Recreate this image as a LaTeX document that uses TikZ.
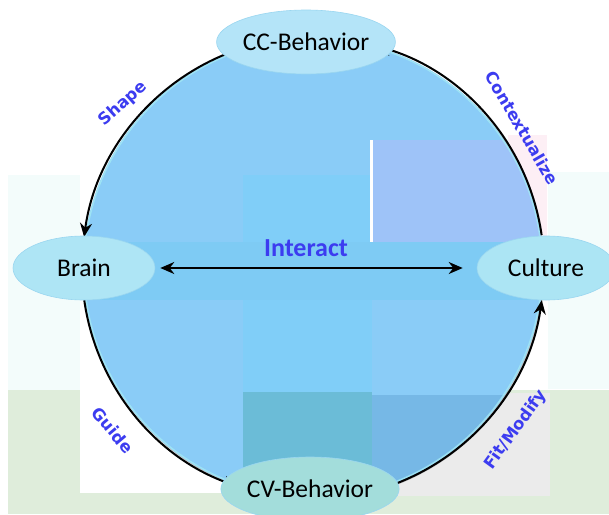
\documentclass[tikz,border=0pt]{standalone}
\usepackage{fontspec}
\setmainfont{Carlito}
\newfontfamily\labfont{DejaVu Sans}
\usetikzlibrary{shapes.geometric,arrows.meta,calc}
\definecolor{palecyan}{HTML}{F3FCFB}
\definecolor{palegreen}{HTML}{DFEDDB}
\definecolor{lgray}{HTML}{EBEBEB}
\definecolor{lpink}{HTML}{FDEFF5}
\definecolor{circblue}{HTML}{8ACCF7}
\definecolor{midrect}{HTML}{80CEF8}
\definecolor{lav}{HTML}{9EC3F8}
\definecolor{band}{HTML}{7ECBF4}
\definecolor{tealrect}{HTML}{6BBCD7}
\definecolor{lowright}{HTML}{76B8E6}
\definecolor{rimcyan}{HTML}{A6EEF4}
\definecolor{ellborder}{HTML}{9AD6F0}
\definecolor{ellA}{HTML}{B4E4F8}
\definecolor{ellB}{HTML}{AEE5F5}
\definecolor{ellC}{HTML}{ACE5F4}
\definecolor{ellD}{HTML}{A3DDDB}
\definecolor{labblue}{RGB}{60,60,240}
\tikzset{
  ell/.style={ellipse, draw=ellborder, line width=0.6pt, minimum width=142pt, minimum height=64pt,
    inner sep=0pt, text=black, font=\fontsize{25.5}{30}\selectfont},
  lab/.style={text=labblue, font=\labfont\bfseries\fontsize{16.5}{19}\selectfont, inner sep=0pt},
  conn/.style={line width=2pt, draw=black, -{Stealth[length=14pt,width=12pt]}},
}
\begin{document}
\begin{tikzpicture}[x=1pt,y=-1pt]
\useasboundingbox (0,0) rectangle (609,514);
% background patches
\fill[white] (0,0) rectangle (609,514);
\fill[palecyan] (8,175) rectangle (80,392);
\fill[palegreen] (8,390) rectangle (609,514);
\fill[palecyan] (548,172) rectangle (609,389);
\fill[white] (80,390) rectangle (243,493);
\fill[lgray] (372,393) rectangle (550,496);
\fill[lpink] (508,135) rectangle (547,240);
% big circle
\coordinate (O) at (313,268);
\fill[black,opacity=.22] ($(O)+(1.5pt,-2pt)$) circle[radius=230pt];
\fill[circblue] (O) circle[radius=230pt];
\begin{scope}
  \clip (O) circle[radius=229pt];
  \fill[midrect] (243,175) rectangle (372,392);
  \fill[lav] (372,140) rectangle (560,242);
  \fill[white] (370,140) rectangle (373,242);
  \fill[band] (60,242) rectangle (560,300);
  \fill[tealrect] (243,392) rectangle (372,500);
  \fill[lowright] (372,395) rectangle (560,500);
\end{scope}
\draw[rimcyan,line width=1.4pt,opacity=.7] (O) circle[radius=229pt];
% arcs
\coordinate (s1) at ($(O)+(109.7:231pt)$);
\coordinate (s2) at ($(O)+(8.2:231pt)$);
\coordinate (s3) at ($(O)+(188:231pt)$);
\coordinate (s4) at ($(O)+(286.5:231pt)$);
\draw[conn] (s1) arc[start angle=109.7, end angle=172.3, radius=231pt];
\draw[conn] (s2) arc[start angle=8.2, end angle=73.8, radius=231pt];
\draw[conn] (s3) arc[start angle=188, end angle=250.9, radius=231pt];
\draw[conn] (s4) arc[start angle=286.5, end angle=352, radius=231pt];
% nodes
\node[ell, fill=ellA, minimum width=142pt] (cc) at (306,42) {CC-Behavior};
\node[ell, fill=ellB] (brain) at (84,268) {Brain};
\node[ell, fill=ellC, minimum width=138pt] (culture) at (546,268) {Culture};
\node[ell, fill=ellD, minimum width=136pt] (cv) at (310,489) {CV-Behavior};
% interact
\draw[line width=2pt, {Stealth[length=14pt,width=12pt]}-{Stealth[length=14pt,width=12pt]}]
  ([xshift=5pt]brain.east) -- ([xshift=-14pt]culture.west);
\node[text=labblue, font=\bfseries\fontsize{26}{30}\selectfont] (interact) at (306,248) {Interact};
% labels
\node[lab, rotate=42] (shape) at (123,104) {Shape};
\node[lab, rotate=-60] (ctx) at (522,128) {Contextualize};
\node[lab, rotate=-50] (guide) at (113,430) {Guide};
\node[lab, rotate=54] (fit) at (516,430) {Fit/Modify};
\end{tikzpicture}
\end{document}
